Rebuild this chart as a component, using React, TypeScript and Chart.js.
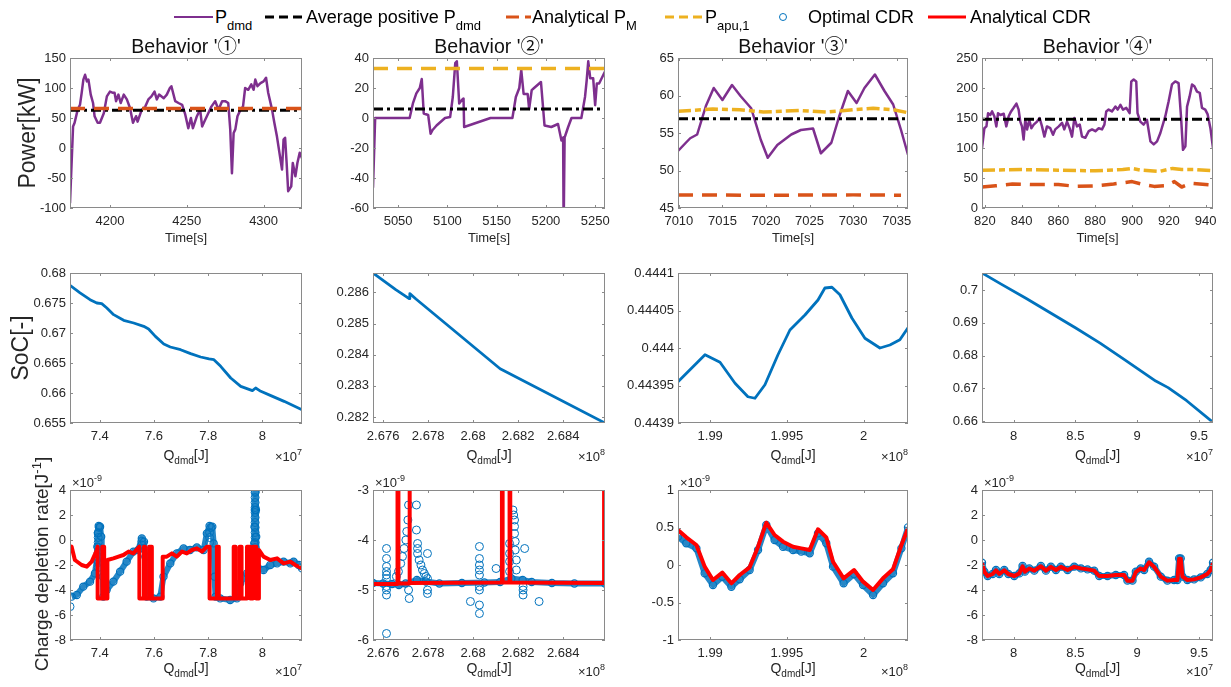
import React, { useEffect, useRef } from 'react';
import { Chart, registerables } from 'chart.js';

Chart.register(...registerables);

type Pt = [number, number];

// ---------------- DATA ----------------
// Row 1: power traces [time s, kW]
const b1Pdmd: Pt[] = [[4174,-92],[4176,36],[4177,42],[4179,64],[4180.5,72],[4181.6,92],[4182.7,114],[4183.8,122],[4185,111],[4186,114],[4187.5,89],[4189,75],[4190,53],[4192,42],[4193.5,42],[4196,58],[4198,86],[4200,94],[4202,92],[4203,92],[4204,78],[4205.5,89],[4207,75],[4209,89],[4211,81],[4213,67],[4215,42],[4217,53],[4218,44],[4220.7,64],[4223,69],[4225,81],[4227,86],[4229,94],[4230.5,81],[4232,89],[4235,83],[4237,89],[4239,100],[4240,103],[4242.5,78],[4244.6,75],[4247,72],[4249,56],[4251,33],[4252.7,50],[4254,33],[4256.6,53],[4258.7,64],[4260,36],[4262,47],[4264,58],[4266,69],[4268.5,78],[4270.7,64],[4273,78],[4275,78],[4277,75],[4278.3,31],[4279.4,-42],[4280.5,25],[4281.6,31],[4283,53],[4285,64],[4286.6,69],[4288,100],[4290,97],[4292,106],[4293.5,97],[4294.6,114],[4296,103],[4298,108],[4300,111],[4301.6,117],[4303,92],[4305.5,64],[4307,42],[4308.7,19],[4310.5,-11],[4312,-36],[4313,14],[4314,17],[4315,-25],[4316,-72],[4318,-64],[4319,-25],[4320.7,-47],[4322,-25],[4323.5,-8],[4325,-17]];
const b1AvgPos = 63;
const b1AnalyticalPM = 66;

const b2Pdmd: Pt[] = [[5024.5,-46.5],[5026.7,0],[5061.7,0],[5065,9.7],[5068.5,16.4],[5072,20],[5074,26],[5076,3],[5080.5,2],[5083,-10.5],[5085,-8],[5089,-5],[5097.6,0],[5102.8,0.6],[5105.5,14],[5108,36.6],[5109.6,37.8],[5112,9.7],[5114.7,12],[5116.4,13],[5117,-6],[5143.8,0],[5166,0],[5169.5,14],[5173,20],[5175,32],[5177.4,16],[5181.5,16],[5183,6],[5185.6,18.6],[5188,20],[5195,24],[5198.6,-5],[5205.5,-6],[5212.3,-4],[5215.8,-15],[5217.5,-13],[5218,-75],[5219,-13],[5222.6,-6],[5226,0],[5236,0],[5239.7,14],[5241.4,25],[5243,37.8],[5245,26.5],[5248,26.5],[5250,8.5],[5251.7,23],[5254,23],[5258.5,29],[5260,31]];
const b2AvgPos = 6;
const b2Papu = 33;

const b3Pdmd: Pt[] = [[7009.9,52.6],[7010.8,53.7],[7011.3,54.3],[7012.1,54.8],[7013.1,58.6],[7014,61],[7015,59.4],[7016.1,61.4],[7017.1,59.9],[7018.3,58.3],[7019.4,54.1],[7020.2,51.7],[7021.3,53.4],[7022.9,54.8],[7024,55.4],[7025.4,55.6],[7026.3,52.3],[7027.5,53.7],[7028.4,57.2],[7029.4,60.6],[7030.4,59],[7031.3,61],[7032.5,62.8],[7033.6,60.6],[7034.6,58.8],[7035.5,55.4],[7036.3,52.1]];
const b3AvgPos = 56.9;
const b3AnalyticalPM: Pt[] = [[7009.9,46.75],[7020,46.7],[7030,46.75],[7035.5,46.7]];
const b3Papu: Pt[] = [[7009.9,57.9],[7013.9,58.2],[7017,58.1],[7019.7,57.8],[7023.9,58],[7027,57.8],[7030,58.1],[7032.3,58.3],[7034.6,58.1],[7036.3,57.7]];

const b4Pdmd: Pt[] = [[818.5,100],[819.8,133],[820.9,136],[821.8,158],[823,155],[824,161],[825.2,153],[826.3,136],[827.2,158],[828.5,155],[830.3,157],[831.7,136],[833,153],[834.3,161],[835.7,167],[837.2,174],[838.4,164],[839.3,144],[840.2,136],[841.1,114],[842,147],[843,131],[844.2,147],[845.3,133],[846.6,139],[848.4,144],[849.8,150],[851.1,136],[852.4,119],[853.8,136],[855.6,133],[857.1,122],[858.3,131],[860.2,136],[862,142],[863.2,131],[864.7,144],[866.1,133],[867.4,119],[868.7,150],[870.1,136],[871.6,139],[872.8,119],[874.6,117],[876.5,128],[878.3,131],[880.1,128],[881.9,133],[883.7,131],[885,139],[886,161],[887.3,164],[889.1,161],[891,169],[892.2,164],[893.7,172],[895.1,164],[896.9,167],[898.7,158],[899.6,211],[900.9,214],[902.3,211],[903,158],[904.5,144],[906.3,139],[908.1,147],[910,111],[911.8,106],[913.6,111],[915.4,125],[918.1,153],[919.9,178],[921.7,206],[923.5,211],[925.3,208],[926.6,153],[927.7,97],[929,103],[929.9,169],[931.3,186],[932.6,206],[933.9,203],[935.3,194],[936.8,192],[938,167],[939.8,164],[941.1,156],[942.6,133],[944,100]];
const b4AvgPos = 148;
const b4AnalyticalPM: Pt[] = [[818.5,35],[826,37],[835,40],[845,39],[860,39],[870,36],[880,37],[890,40],[900,44],[905,40],[912,36],[918,37],[923,44],[927,35],[932,41],[944,38]];
const b4Papu: Pt[] = [[818.5,63],[840,64],[860,63],[880,62],[895,64],[900,66],[905,63],[915,61],[922,66],[927,64],[935,64],[944,62]];

// Row 2: SoC vs Q_dmd (x in units of the axis exponent)
const soc1: Pt[] = [[7.29,0.67794],[7.327,0.6767],[7.364,0.67556],[7.389,0.675],[7.407,0.6749],[7.426,0.67417],[7.451,0.67306],[7.488,0.67211],[7.525,0.67167],[7.562,0.67111],[7.58,0.67067],[7.605,0.66944],[7.636,0.66817],[7.66,0.66767],[7.698,0.66722],[7.735,0.66656],[7.772,0.666],[7.803,0.66567],[7.821,0.66556],[7.846,0.66444],[7.883,0.6625],[7.92,0.66111],[7.963,0.66039],[7.975,0.66083],[7.994,0.66028],[8.031,0.65956],[8.08,0.65861],[8.146,0.65722]];
const soc2: Pt[] = [[2.67555,0.28662],[2.67656,0.286086],[2.677008,0.285872],[2.677157,0.285797],[2.677186,0.285957],[2.677459,0.285786],[2.6812,0.28355],[2.68586,0.28181]];
const soc3: Pt[] = [[1.9879,0.443955],[1.98966,0.443991],[1.99064,0.443981],[1.99162,0.443953],[1.99246,0.443935],[1.99292,0.443933],[1.99357,0.443951],[1.99442,0.443991],[1.9952,0.444024],[1.99618,0.444044],[1.99703,0.444064],[1.99748,0.44408],[1.99794,0.444081],[1.99846,0.444071],[1.99924,0.44404],[2.00009,0.444013],[2.00107,0.444],[2.00172,0.444004],[2.00237,0.444011],[2.0029,0.444027]];
const soc4: Pt[] = [[7.745,0.7052],[7.9,0.7018],[8.1,0.6975],[8.3,0.693],[8.5,0.6885],[8.7,0.6838],[8.9,0.6787],[9.05,0.6748],[9.15,0.6722],[9.25,0.6702],[9.4,0.6662],[9.613,0.6596]];

// Row 3: charge depletion rate (units of 1e-9 J^-1)
const cdr1Optimal: Pt[] = [[7.296,-4.53],[7.315,-4.4],[7.339,-3.73],[7.364,-3.33],[7.382,-2.67],[7.389,-1.6],[7.391,-0.53],[7.393,0.53],[7.396,1.12],[7.401,1.07],[7.405,0.27],[7.407,-0.8],[7.411,-2.93],[7.413,-4.53],[7.425,-4],[7.45,-3.33],[7.475,-2.53],[7.499,-1.73],[7.524,-0.93],[7.542,-0.8],[7.555,0.13],[7.563,-0.13],[7.568,-1.33],[7.573,-4.53],[7.598,-4.67],[7.623,-4.53],[7.635,-2.93],[7.66,-1.87],[7.684,-1.07],[7.709,-0.67],[7.733,-0.8],[7.758,-0.59],[7.783,-0.8],[7.795,0.53],[7.805,1.12],[7.815,1.07],[7.82,-0.27],[7.823,-2.93],[7.827,-4.53],[7.844,-4.67],[7.881,-4.8],[7.906,-4.67],[7.918,-3.47],[7.943,-2.67],[7.962,-1.87],[7.967,-1.6],[7.97,-0.27],[7.971,1.07],[7.972,2.4],[7.974,3.87],[7.976,2.4],[7.977,0.27],[7.98,-2.13],[8.004,-2.4],[8.029,-2],[8.054,-1.87],[8.078,-1.73],[8.103,-1.87],[8.115,-1.73],[8.134,-2],[8.146,-2.27]];
const cdr1OptimalSpread: Pt[] = [[7.29,-5.33],[7.394,-2.2],[7.394,-1.8],[7.394,-1.4],[7.394,-1.0],[7.394,-0.6],[7.394,-0.2],[7.394,0.2],[7.394,0.6],[7.398,1.0],[7.555,-0.4],[7.555,-0.1],[7.805,-0.2],[7.805,0.2],[7.805,0.6],[7.81,1.0],[7.973,-1.4],[7.973,-1.0],[7.973,-0.6],[7.973,-0.2],[7.973,0.2],[7.973,0.6],[7.973,1.0],[7.973,1.4],[7.973,1.8],[7.973,2.2],[7.973,2.6],[7.973,3.0],[7.973,3.4],[7.973,3.8]];
const cdr1Analytical: Pt[] = [[7.29,-0.67],[7.296,-0.53],[7.308,-1.6],[7.333,-2],[7.352,-2.13],[7.37,-1.73],[7.389,-0.8],[7.392,-0.53],[7.392,-4.67],[7.409,-4.67],[7.409,-0.53],[7.416,-0.53],[7.416,-4.67],[7.428,-4.67],[7.428,-1.6],[7.45,-1.47],[7.469,-1.33],[7.487,-1.2],[7.506,-0.93],[7.524,-1.07],[7.546,-0.53],[7.546,-4.67],[7.563,-4.67],[7.563,-0.53],[7.567,-0.53],[7.567,-4.67],[7.582,-4.67],[7.582,-0.53],[7.592,-0.53],[7.592,-4.67],[7.632,-4.67],[7.632,-1.33],[7.647,-1.33],[7.666,-1.07],[7.684,-1.33],[7.703,-0.93],[7.721,-1.07],[7.74,-0.8],[7.758,-0.67],[7.777,-0.93],[7.795,-0.53],[7.805,-0.53],[7.805,-4.67],[7.832,-4.67],[7.832,-0.53],[7.839,-0.53],[7.839,-4.67],[7.894,-4.67],[7.894,-0.53],[7.901,-0.53],[7.901,-4.67],[7.916,-4.67],[7.916,-0.53],[7.923,-0.53],[7.923,-4.67],[7.943,-4.67],[7.943,-0.53],[7.955,-0.53],[7.955,-4.67],[7.965,-4.67],[7.965,-0.53],[7.977,-0.53],[7.977,-4.67],[7.987,-4.67],[7.987,-0.8],[8.004,-1.33],[8.029,-1.6],[8.054,-1.47],[8.078,-1.87],[8.103,-1.73],[8.121,-2],[8.146,-2.27]];

const cdr2Optimal: Pt[] = [[2.67555,-4.86],[2.676,-4.87],[2.6764,-4.88],[2.6767,-4.9],[2.677,-4.87],[2.6775,-4.8],[2.6779,-4.83],[2.6785,-4.87],[2.6795,-4.86],[2.6805,-4.85],[2.6812,-4.84],[2.6817,-4.77],[2.6822,-4.8],[2.6826,-4.84],[2.6835,-4.86],[2.6845,-4.87],[2.68586,-4.87]];
const cdr2OptimalSpread: Pt[] = [[2.67615,-4.17],[2.67615,-4.37],[2.67615,-4.53],[2.67615,-4.63],[2.67615,-4.7],[2.67615,-4.77],[2.67615,-4.93],[2.67615,-5.0],[2.67615,-5.1],[2.67615,-5.87],[2.67659,-4.73],[2.67668,-4.63],[2.67678,-4.47],[2.67686,-4.33],[2.67693,-4.17],[2.67701,-4.0],[2.67705,-3.83],[2.6771,-3.6],[2.67713,-3.3],[2.67713,-5.0],[2.67716,-5.17],[2.67748,-3.3],[2.67748,-3.8],[2.67753,-4.07],[2.67753,-4.17],[2.67753,-4.27],[2.6776,-4.4],[2.67768,-4.5],[2.67775,-4.6],[2.67783,-4.67],[2.6779,-4.73],[2.67797,-4.77],[2.67797,-4.27],[2.67797,-5.0],[2.67797,-5.07],[2.67988,-5.23],[2.68028,-5.3],[2.68028,-5.47],[2.68028,-4.13],[2.68028,-4.37],[2.68028,-4.5],[2.68028,-4.6],[2.68028,-4.7],[2.68028,-4.93],[2.68028,-5.0],[2.68102,-4.57],[2.68177,-3.4],[2.6818,-3.5],[2.68184,-3.6],[2.68184,-3.73],[2.68184,-3.87],[2.68187,-4.03],[2.68187,-4.2],[2.68192,-4.4],[2.68192,-4.6],[2.68162,-4.07],[2.68162,-4.27],[2.68162,-4.43],[2.68162,-4.63],[2.68229,-4.17],[2.68222,-4.93],[2.68222,-5.0],[2.68222,-5.1],[2.68293,-5.23]];
const cdr2Analytical: Pt[] = [[2.67555,-4.88],[2.67664,-4.88],[2.67664,-2.5],[2.67668,-2.5],[2.67668,-4.87],[2.67716,-4.87],[2.67716,-2.5],[2.67719,-2.5],[2.67719,-4.86],[2.68128,-4.85],[2.68128,-2.5],[2.68131,-2.5],[2.68131,-4.85],[2.68162,-4.85],[2.68162,-2.5],[2.68165,-2.5],[2.68165,-4.85],[2.68582,-4.86],[2.68582,-2.5]];

const cdr3Optimal: Pt[] = [[1.9879,0.378],[1.98844,0.289],[1.9891,0.222],[1.98964,-0.111],[1.99018,-0.267],[1.99079,-0.156],[1.99138,-0.289],[1.99192,-0.191],[1.99257,-0.067],[1.99312,0.2],[1.99366,0.533],[1.9942,0.333],[1.99475,0.244],[1.9954,0.2],[1.99594,0.178],[1.99649,0.156],[1.99703,0.422],[1.99757,0.289],[1.99801,-0.022],[1.9987,-0.244],[1.99938,-0.12],[1.99997,-0.267],[2.00062,-0.4],[2.00127,-0.244],[2.00192,-0.111],[2.00247,0.222],[2.0029,0.502]];
const cdr3Analytical: Pt[] = [[1.9879,0.467],[1.98844,0.369],[1.9891,0.267],[1.98964,-0.022],[1.99018,-0.2],[1.99079,-0.102],[1.99138,-0.244],[1.99192,-0.133],[1.99257,-0.031],[1.99312,0.244],[1.99366,0.564],[1.9942,0.4],[1.99475,0.311],[1.9954,0.244],[1.99594,0.222],[1.99649,0.2],[1.99703,0.476],[1.99757,0.369],[1.99801,0.044],[1.9987,-0.178],[1.99938,-0.067],[1.99997,-0.222],[2.00062,-0.333],[2.00127,-0.178],[2.00192,-0.058],[2.00247,0.267],[2.0029,0.489]];

const cdr4Optimal: Pt[] = [[7.745,-1.81],[7.764,-2.53],[7.791,-2.88],[7.831,-2.72],[7.858,-2.4],[7.885,-2.72],[7.925,-2.4],[7.958,-2.72],[8.006,-2.88],[8.047,-2.67],[8.073,-2.08],[8.092,-2.53],[8.127,-2.27],[8.168,-2.45],[8.221,-2.08],[8.262,-2.45],[8.302,-2.13],[8.343,-2.4],[8.383,-2.13],[8.437,-2.4],[8.491,-2.13],[8.545,-2.27],[8.598,-2.35],[8.652,-2.45],[8.693,-2.88],[8.76,-2.88],[8.827,-2.8],[8.894,-2.8],[8.921,-3.25],[8.962,-3.25],[8.989,-2.53],[9.029,-2.27],[9.056,-2.4],[9.096,-1.73],[9.137,-2.13],[9.191,-2.93],[9.244,-3.25],[9.298,-3.2],[9.325,-3.2],[9.339,-1.47],[9.352,-1.47],[9.366,-2.93],[9.406,-3.2],[9.46,-3.15],[9.514,-2.99],[9.567,-2.72],[9.594,-2.4],[9.613,-1.81]];
const cdr4Analytical: Pt[] = [[7.745,-1.85],[7.764,-2.55],[7.791,-2.88],[7.831,-2.72],[7.858,-2.42],[7.885,-2.72],[7.925,-2.42],[7.958,-2.72],[8.006,-2.88],[8.047,-2.67],[8.073,-2.1],[8.092,-2.53],[8.127,-2.28],[8.168,-2.45],[8.221,-2.1],[8.262,-2.45],[8.302,-2.15],[8.343,-2.4],[8.383,-2.15],[8.437,-2.4],[8.491,-2.15],[8.545,-2.27],[8.598,-2.35],[8.652,-2.45],[8.693,-2.88],[8.76,-2.88],[8.827,-2.8],[8.894,-2.8],[8.921,-3.25],[8.962,-3.25],[8.989,-2.55],[9.029,-2.28],[9.056,-2.4],[9.096,-1.78],[9.137,-2.15],[9.191,-2.93],[9.244,-3.25],[9.298,-3.2],[9.325,-3.2],[9.339,-1.5],[9.352,-1.5],[9.366,-2.93],[9.406,-3.2],[9.46,-3.15],[9.514,-2.99],[9.567,-2.72],[9.594,-2.4],[9.613,-1.85]];

// Axis limits and ticks
const b1TimeRange: Pt = [4174, 4325];
const b2TimeRange: Pt = [5024.5, 5260];
const b3TimeRange: Pt = [7009.9, 7036.3];
const b4TimeRange: Pt = [818.5, 944];
const q1Range: Pt = [7.29, 8.146];
const q2Range: Pt = [2.67555, 2.68586];
const q3Range: Pt = [1.9879, 2.0029];
const q4Range: Pt = [7.745, 9.613];

const b1TimeTicks = [4200, 4250, 4300];
const b2TimeTicks = [5050, 5100, 5150, 5200, 5250];
const b3TimeTicks = [7010, 7015, 7020, 7025, 7030, 7035];
const b4TimeTicks = [820, 840, 860, 880, 900, 920, 940];
const b1PowerTicks = [-100, -50, 0, 50, 100, 150];
const b2PowerTicks = [-60, -40, -20, 0, 20, 40];
const b3PowerTicks = [45, 50, 55, 60, 65];
const b4PowerTicks = [0, 50, 100, 150, 200, 250];
const q1Ticks = [7.4, 7.6, 7.8, 8];
const q2Ticks = [2.676, 2.678, 2.68, 2.682, 2.684];
const q3Ticks = [1.99, 1.995, 2];
const q4Ticks = [8, 8.5, 9, 9.5];
const soc1Ticks = [0.655, 0.66, 0.665, 0.67, 0.675, 0.68];
const soc2Ticks = [0.282, 0.283, 0.284, 0.285, 0.286];
const soc3Ticks = [0.4439, 0.44395, 0.444, 0.44405, 0.4441];
const soc4Ticks = [0.66, 0.67, 0.68, 0.69, 0.7];
const cdr1Ticks = [-8, -6, -4, -2, 0, 2, 4];
const cdr2Ticks = [-6, -5, -4, -3];
const cdr3Ticks = [-1, -0.5, 0, 0.5, 1];
const cdr4Ticks = [-8, -6, -4, -2, 0, 2, 4];
const qExponents = ['7', '8', '8', '7'];
const behaviorTitles = ["Behavior '①'", "Behavior '②'", "Behavior '③'", "Behavior '④'"];

// ---------------- STYLE / LAYOUT ----------------
const FONT = '"Liberation Sans", Arial, Helvetica, "Noto Sans CJK SC", sans-serif';
const PURPLE = '#7E2F8E';
const ORANGE = '#D95319';
const YELLOW = '#EDB120';
const BLUE = '#0072BD';
const RED = '#FF0000';
const TXT = '#262626';
const BOX = '#8a8a8a';

const COLS = [
  { left: 70, width: 232 },
  { left: 373, width: 232 },
  { left: 678, width: 230 },
  { left: 982, width: 231 },
];
const ROWS = [58, 273, 490];
const PLOT_H = 150;
const PAD_L = 62, PAD_R = 22, PAD_T = 12, PAD_B = 30;

const toXY = (pts: Pt[]) => pts.map(([x, y]) => ({ x, y }));
const hLine = (v: number, r: Pt): Pt[] => [[r[0], v], [r[1], v]];

const lineDS = (pts: Pt[], color: string, width: number, dash: number[] = []) => ({
  data: toXY(pts),
  showLine: true,
  borderColor: color,
  borderWidth: width,
  borderDash: dash,
  borderJoinStyle: 'round',
  pointRadius: 0,
  pointHoverRadius: 0,
  fill: false,
  tension: 0,
});
const bandDS = (pts: Pt[]) => ({
  data: toXY(pts),
  showLine: true,
  borderColor: 'rgba(0,114,189,0.85)',
  borderWidth: 6,
  borderJoinStyle: 'round',
  pointRadius: 3.6,
  pointBorderWidth: 1.2,
  pointBorderColor: BLUE,
  pointBackgroundColor: 'rgba(255,255,255,0)',
  fill: false,
  tension: 0,
});
const ringDS = (pts: Pt[], r = 4) => ({
  data: toXY(pts),
  showLine: false,
  pointRadius: r,
  pointBorderWidth: 1,
  pointBorderColor: BLUE,
  pointBackgroundColor: 'rgba(255,255,255,0)',
});

const boxPlugin = {
  id: 'matlabBox',
  afterDatasetsDraw(chart: any) {
    const { ctx, chartArea: a, scales } = chart;
    ctx.save();
    ctx.strokeStyle = BOX;
    ctx.lineWidth = 1;
    ctx.strokeRect(Math.round(a.left) + 0.5, Math.round(a.top) + 0.5, Math.round(a.width) - 1, Math.round(a.height) - 1);
    const tl = 3;
    ctx.beginPath();
    scales.x.ticks.forEach((t: any) => {
      const px = Math.round(scales.x.getPixelForValue(t.value)) + 0.5;
      ctx.moveTo(px, a.bottom); ctx.lineTo(px, a.bottom - tl);
      ctx.moveTo(px, a.top); ctx.lineTo(px, a.top + tl);
    });
    scales.y.ticks.forEach((t: any) => {
      const py = Math.round(scales.y.getPixelForValue(t.value)) + 0.5;
      ctx.moveTo(a.left, py); ctx.lineTo(a.left + tl, py);
      ctx.moveTo(a.right, py); ctx.lineTo(a.right - tl, py);
    });
    ctx.stroke();
    ctx.restore();
  },
};

interface PanelSpec {
  col: number; row: number;
  xRange: Pt; yRange: Pt;
  xTicks: number[]; yTicks: number[];
  datasets: any[];
}

const fmt = (v: number) => String(+Number(v).toPrecision(10));

const axisOpts = (range: Pt, ticks: number[], isX: boolean) => ({
  type: 'linear',
  min: range[0],
  max: range[1],
  grid: { display: false, drawTicks: false },
  border: { display: false },
  ticks: {
    font: { family: FONT, size: 13 },
    color: TXT,
    padding: isX ? 6 : 4,
    maxRotation: 0,
    autoSkip: false,
    includeBounds: false,
    callback: (v: any) => fmt(v),
  },
  afterBuildTicks: (axis: any) => { axis.ticks = ticks.map((value) => ({ value })); },
  afterFit: (axis: any) => { if (isX) axis.height = PAD_B; else axis.width = PAD_L; },
});

function Panel({ spec }: { spec: PanelSpec }) {
  const ref = useRef<HTMLCanvasElement>(null);
  const { left, width } = COLS[spec.col];
  const top = ROWS[spec.row];
  const cw = width + PAD_L + PAD_R;
  const ch = PLOT_H + PAD_T + PAD_B;
  useEffect(() => {
    const chart = new Chart(ref.current as HTMLCanvasElement, {
      type: 'scatter',
      data: { datasets: spec.datasets },
      options: {
        animation: false,
        responsive: false,
        maintainAspectRatio: false,
        events: [],
        layout: { padding: { top: PAD_T, right: PAD_R, left: 0, bottom: 0 } },
        plugins: { legend: { display: false }, tooltip: { enabled: false }, title: { display: false } },
        scales: {
          x: axisOpts(spec.xRange, spec.xTicks, true),
          y: axisOpts(spec.yRange, spec.yTicks, false),
        },
      } as any,
      plugins: [boxPlugin],
    });
    return () => chart.destroy();
  }, []);
  return (
    <canvas
      ref={ref}
      width={cw}
      height={ch}
      style={{ position: 'absolute', left: left - PAD_L, top: top - PAD_T, width: cw, height: ch }}
    />
  );
}

const DASHDOT = [10, 4, 3, 4];
const DASH = [15, 9];

const panels: PanelSpec[] = [
  { col: 0, row: 0, xRange: b1TimeRange, yRange: [-100, 150], xTicks: b1TimeTicks, yTicks: b1PowerTicks,
    datasets: [
      lineDS(hLine(b1AnalyticalPM, b1TimeRange), ORANGE, 3.5, DASH),
      lineDS(hLine(b1AvgPos, b1TimeRange), '#000', 3, DASHDOT),
      lineDS(b1Pdmd, PURPLE, 2.5),
    ] },
  { col: 1, row: 0, xRange: b2TimeRange, yRange: [-60, 40], xTicks: b2TimeTicks, yTicks: b2PowerTicks,
    datasets: [
      lineDS(hLine(b2Papu, b2TimeRange), YELLOW, 3.5, DASH),
      lineDS(hLine(b2AvgPos, b2TimeRange), '#000', 3, DASHDOT),
      lineDS(b2Pdmd, PURPLE, 2.5),
    ] },
  { col: 2, row: 0, xRange: b3TimeRange, yRange: [45, 65], xTicks: b3TimeTicks, yTicks: b3PowerTicks,
    datasets: [
      lineDS(b3Papu, YELLOW, 3.5, [13, 4, 6, 4]),
      lineDS(b3AnalyticalPM, ORANGE, 3.5, DASH),
      lineDS(hLine(b3AvgPos, b3TimeRange), '#000', 3, DASHDOT),
      lineDS(b3Pdmd, PURPLE, 2.5),
    ] },
  { col: 3, row: 0, xRange: b4TimeRange, yRange: [0, 250], xTicks: b4TimeTicks, yTicks: b4PowerTicks,
    datasets: [
      lineDS(b4Papu, YELLOW, 3.5, [13, 4, 6, 4]),
      lineDS(b4AnalyticalPM, ORANGE, 3.5, DASH),
      lineDS(hLine(b4AvgPos, b4TimeRange), '#000', 3, DASHDOT),
      lineDS(b4Pdmd, PURPLE, 2.5),
    ] },
  { col: 0, row: 1, xRange: q1Range, yRange: [0.655, 0.68], xTicks: q1Ticks, yTicks: soc1Ticks,
    datasets: [lineDS(soc1, BLUE, 2.8)] },
  { col: 1, row: 1, xRange: q2Range, yRange: [0.28181, 0.28662], xTicks: q2Ticks, yTicks: soc2Ticks,
    datasets: [lineDS(soc2, BLUE, 2.8)] },
  { col: 2, row: 1, xRange: q3Range, yRange: [0.4439, 0.4441], xTicks: q3Ticks, yTicks: soc3Ticks,
    datasets: [lineDS(soc3, BLUE, 2.8)] },
  { col: 3, row: 1, xRange: q4Range, yRange: [0.6594, 0.7052], xTicks: q4Ticks, yTicks: soc4Ticks,
    datasets: [lineDS(soc4, BLUE, 2.8)] },
  { col: 0, row: 2, xRange: q1Range, yRange: [-8, 4], xTicks: q1Ticks, yTicks: cdr1Ticks,
    datasets: [lineDS(cdr1Analytical, RED, 4), ringDS(cdr1OptimalSpread, 4), bandDS(cdr1Optimal)] },
  { col: 1, row: 2, xRange: q2Range, yRange: [-6, -3], xTicks: q2Ticks, yTicks: cdr2Ticks,
    datasets: [lineDS(cdr2Analytical, RED, 4), ringDS(cdr2OptimalSpread, 4), bandDS(cdr2Optimal)] },
  { col: 2, row: 2, xRange: q3Range, yRange: [-1, 1], xTicks: q3Ticks, yTicks: cdr3Ticks,
    datasets: [lineDS(cdr3Analytical, RED, 4), bandDS(cdr3Optimal)] },
  { col: 3, row: 2, xRange: q4Range, yRange: [-8, 4], xTicks: q4Ticks, yTicks: cdr4Ticks,
    datasets: [lineDS(cdr4Analytical, RED, 4), bandDS(cdr4Optimal)] },
];

const abs = (s: React.CSSProperties): React.CSSProperties => ({ position: 'absolute', whiteSpace: 'nowrap', ...s });
const Sub = ({ children, size = 12, drop = 6 }: any) => (
  <span style={{ fontSize: size, position: 'relative', top: drop }}>{children}</span>
);
const Sup = ({ children, size = 10, rise = 6 }: any) => (
  <span style={{ fontSize: size, position: 'relative', top: -rise }}>{children}</span>
);

function Legend() {
  const f: React.CSSProperties = { fontSize: 18, lineHeight: '20px', color: '#000', top: 7 };
  return (
    <>
      <svg style={abs({ left: 174, top: 12 })} width={40} height={10}>
        <line x1={0} y1={5} x2={39} y2={5} stroke={PURPLE} strokeWidth={2} />
      </svg>
      <div style={abs({ ...f, left: 215 })}>P<Sub size={13} drop={7}>dmd</Sub></div>
      <svg style={abs({ left: 265, top: 12 })} width={38} height={10}>
        <line x1={0} y1={5} x2={37} y2={5} stroke="#000" strokeWidth={3} strokeDasharray="9 5" />
      </svg>
      <div style={abs({ ...f, left: 306 })}>Average positive P<Sub size={13} drop={7}>dmd</Sub></div>
      <svg style={abs({ left: 506, top: 12 })} width={26} height={10}>
        <line x1={0} y1={5} x2={25} y2={5} stroke={ORANGE} strokeWidth={3} strokeDasharray="13 6 6 10" />
      </svg>
      <div style={abs({ ...f, left: 532 })}>Analytical P<Sub size={13} drop={7}>M</Sub></div>
      <svg style={abs({ left: 665, top: 12 })} width={39} height={10}>
        <line x1={0} y1={5} x2={38} y2={5} stroke={YELLOW} strokeWidth={3} strokeDasharray="9 5" />
      </svg>
      <div style={abs({ ...f, left: 705 })}>P<Sub size={13} drop={7}>apu,1</Sub></div>
      <svg style={abs({ left: 777, top: 11 })} width={12} height={12}>
        <circle cx={6} cy={6} r={3.5} fill="none" stroke={BLUE} strokeWidth={1} />
      </svg>
      <div style={abs({ ...f, left: 808 })}>Optimal CDR</div>
      <svg style={abs({ left: 928, top: 12 })} width={39} height={10}>
        <line x1={0} y1={5} x2={38} y2={5} stroke={RED} strokeWidth={3} />
      </svg>
      <div style={abs({ ...f, left: 970 })}>Analytical CDR</div>
    </>
  );
}

function Labels() {
  const items: React.ReactNode[] = [];
  COLS.forEach((c, i) => {
    const cx = c.left + c.width / 2;
    items.push(
      <div key={'t' + i} style={abs({ left: cx - 100, width: 200, top: 35, textAlign: 'center', fontSize: 19.5, lineHeight: '22px', color: '#111' })}>
        {behaviorTitles[i]}
      </div>
    );
    items.push(
      <div key={'x1' + i} style={abs({ left: cx - 60, width: 120, top: 230, textAlign: 'center', fontSize: 13, lineHeight: '16px', color: TXT })}>
        Time[s]
      </div>
    );
    [447, 660].forEach((y, k) => {
      items.push(
        <div key={'q' + i + k} style={abs({ left: cx - 60, width: 120, top: y, textAlign: 'center', fontSize: 14, lineHeight: '16px', color: TXT })}>
          Q<Sub size={10} drop={4}>dmd</Sub>[J]
        </div>
      );
    });
    [449, 664].forEach((y, k) => {
      items.push(
        <div key={'e' + i + k} style={abs({ left: c.left + c.width - 80, width: 80, top: y, textAlign: 'right', fontSize: 13, lineHeight: '16px', color: TXT })}>
          ×10<Sup size={9} rise={6}>{qExponents[i]}</Sup>
        </div>
      );
    });
    items.push(
      <div key={'n' + i} style={abs({ left: c.left + 2, top: 475, fontSize: 13, lineHeight: '16px', color: TXT })}>
        ×10<Sup size={9} rise={6}>-9</Sup>
      </div>
    );
  });
  const yl = (key: string, cx: number, cy: number, size: number, content: React.ReactNode) => (
    <div key={key} style={abs({ left: cx - 150, top: cy - 15, width: 300, height: 30, lineHeight: '30px', textAlign: 'center', fontSize: size, color: TXT, transform: 'rotate(-90deg)' })}>
      {content}
    </div>
  );
  items.push(yl('yl1', 27, 133, 23, 'Power[kW]'));
  items.push(yl('yl2', 20, 348, 23, 'SoC[-]'));
  items.push(yl('yl3', 42, 564, 19, <>Charge depletion rate[J<Sup size={13} rise={7}>-1</Sup>]</>));
  return <>{items}</>;
}

export default function App() {
  return (
    <div style={{ position: 'fixed', left: 0, top: 0, width: 1231, height: 687, background: '#fff', fontFamily: FONT, overflow: 'hidden' }}>
      {panels.map((p, i) => <Panel key={i} spec={p} />)}
      <Labels />
      <Legend />
    </div>
  );
}
